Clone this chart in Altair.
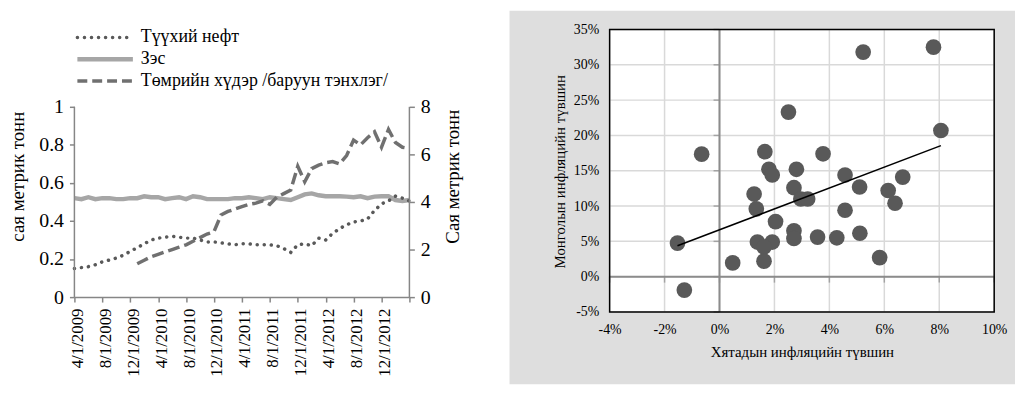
import altair as alt
import pandas as pd

FONT = "Liberation Serif"

# ---------------- left chart data (monthly, 4/2009 .. 4/2013) ----------------
start_month, start_year = 4, 2009
month_idx = list(range(49))
month_labels = []
for i in month_idx:
    m = (start_month - 1 + i) % 12 + 1
    y = start_year + (start_month - 1 + i) // 12
    month_labels.append(f"{m}/1/{y}")

series_names = ["Түүхий нефт", "Зэс", "Төмрийн хүдэр /баруун тэнхлэг/"]

oil = [0.15, 0.155, 0.16, 0.17, 0.185, 0.195, 0.205, 0.22, 0.24, 0.26,
       0.28, 0.30, 0.31, 0.315, 0.32, 0.315, 0.31, 0.31, 0.30, 0.29,
       0.29, 0.285, 0.28, 0.275, 0.28, 0.28, 0.275, 0.275, 0.275, 0.27,
       0.255, 0.235, 0.275, 0.28, 0.27, 0.31, 0.30, 0.335, 0.36, 0.38,
       0.395, 0.40, 0.41, 0.455, 0.49, 0.505, 0.53, 0.52, 0.505]

copper = [0.52, 0.515, 0.525, 0.515, 0.52, 0.52, 0.515, 0.515, 0.52, 0.52,
          0.53, 0.525, 0.525, 0.515, 0.52, 0.525, 0.515, 0.53, 0.525, 0.515,
          0.515, 0.515, 0.515, 0.52, 0.52, 0.525, 0.52, 0.515, 0.525, 0.52,
          0.515, 0.51, 0.525, 0.54, 0.545, 0.535, 0.53, 0.53, 0.53, 0.528,
          0.525, 0.53, 0.52, 0.528, 0.53, 0.53, 0.51, 0.505, 0.51]

iron = [None] * 9 + [1.4, 1.55, 1.7, 1.8, 1.9, 2.0, 2.1, 2.2, 2.35, 2.5,
                     2.65, 2.75, 3.45, 3.6, 3.7, 3.8, 3.9, 3.95, 4.05, 3.9,
                     4.2, 4.35, 4.5, 5.5, 4.85, 5.4, 5.55, 5.65, 5.7, 5.6,
                     5.95, 6.6, 6.4, 6.7, 6.95, 6.3, 7.05, 6.5, 6.3, 6.25]

left_y_ticks = [0, 0.2, 0.4, 0.6, 0.8, 1]
right_y_ticks = [0, 2, 4, 6, 8]
x_tick_values = list(range(0, 49, 4))

# ---------------- right chart data ----------------
china_infl = [5.23, 7.79, 2.51, 8.06, -0.65, 1.65, 3.77, 1.80, 1.92, 2.80,
              4.57, 6.67, 2.71, 5.10, 6.14, 1.26, 2.96, 3.21, 6.39, 1.34,
              4.57, 2.04, 2.71, 2.71, 5.11, 3.57, 4.27, -1.53, 1.38, 1.92,
              1.62, 1.62, 0.48, 5.83, -1.28]
mongol_infl = [31.8, 32.5, 23.3, 20.7, 17.35, 17.7, 17.4, 15.2, 14.4, 15.2,
               14.4, 14.1, 12.6, 12.7, 12.2, 11.7, 11.0, 11.0, 10.4, 9.6,
               9.4, 7.8, 6.5, 5.4, 6.15, 5.6, 5.5, 4.75, 4.9, 4.9,
               4.2, 2.2, 1.95, 2.7, -1.9]
x_grid = [-4, -2, 0, 2, 4, 6, 8, 10]
y_grid = [-5, 0, 5, 10, 15, 20, 25, 30, 35]

# ---------------- left chart ----------------
LW, LH = 338, 270
PX_ONE = 192  # pixel height of the 0..1 range
left_max = LH / PX_ONE
right_max = 8 * LH / PX_ONE
AX_COLOR = "#868686"

df_oil = pd.DataFrame({"idx": month_idx, "value": oil})
df_cu = pd.DataFrame({"idx": month_idx, "value": copper})
df_fe = pd.DataFrame({"idx": month_idx, "value": iron}).dropna()

tick_labels = [month_labels[i] if i < 48 else "" for i in x_tick_values]
label_expr = "[" + ",".join(f"'{s}'" for s in tick_labels) + "][round(datum.value/4)]"

x_scale_l = alt.Scale(domain=[0, 48], nice=False, zero=False)
x_axis_l = alt.Axis(values=x_tick_values, labelExpr=label_expr, labelAngle=270,
                    labelFontSize=17, labelPadding=6, labelOffset=3, tickSize=5, tickWidth=1.5,
                    tickColor=AX_COLOR, domainColor=AX_COLOR, domainWidth=1.5,
                    labelFlush=False, labelOverlap=False, grid=False, title=None)
x_enc = alt.X("idx:Q", scale=x_scale_l, axis=x_axis_l)

left_scale = alt.Scale(domain=[0, left_max], nice=False, zero=True)
right_scale = alt.Scale(domain=[0, right_max], nice=False, zero=True)

cu_line = alt.Chart(df_cu).mark_line(color="#a6a6a6", strokeWidth=4.5).encode(
    x=x_enc,
    y=alt.Y("value:Q", scale=left_scale,
            axis=alt.Axis(orient="left", values=left_y_ticks, format=".1~f", domain=False,
                          tickSize=5, tickWidth=1.5, tickColor=AX_COLOR, labelFontSize=20,
                          labelPadding=6, grid=False,
                          title="сая метрик тонн", titleAngle=270, titleX=-57, titleY=148,
                          titleAlign="center", titleBaseline="middle", titleFontSize=19,
                          titleFontWeight="normal")),
)

oil_line = alt.Chart(df_oil).mark_line(
    color="#595959", strokeWidth=3.5, strokeDash=[0.1, 7], strokeCap="round"
).encode(
    x=x_enc,
    y=alt.Y("value:Q", scale=left_scale, axis=None),
)

fe_line = alt.Chart(df_fe).mark_line(
    color="#707070", strokeWidth=3.5, strokeDash=[12, 5]
).encode(
    x=x_enc,
    y=alt.Y("value:Q", scale=right_scale,
            axis=alt.Axis(orient="right", values=right_y_ticks, format="d", domain=False,
                          tickSize=5, tickWidth=1.5, tickColor=AX_COLOR, labelFontSize=20,
                          labelPadding=6, grid=False,
                          title="Сая метрик тонн", titleAngle=270, titleX=44, titleY=148,
                          titleAlign="center", titleBaseline="middle", titleFontSize=19,
                          titleFontWeight="normal")),
)

one = alt.Data(values=[{}])
axis_left_line = alt.Chart(one).mark_rule(color=AX_COLOR, strokeWidth=1.5).encode(
    x=alt.value(0), y=alt.value(LH - PX_ONE), y2=alt.value(LH))
axis_right_line = alt.Chart(one).mark_rule(color=AX_COLOR, strokeWidth=1.5).encode(
    x=alt.value(LW), y=alt.value(LH - PX_ONE), y2=alt.value(LH))

leg_y = [8, 30, 52]
leg_styles = [dict(color="#595959", strokeWidth=3.5, strokeDash=[0.1, 7], strokeCap="round"),
              dict(color="#a6a6a6", strokeWidth=4.5),
              dict(color="#707070", strokeWidth=3.5, strokeDash=[10, 5])]
legend_layers = []
for name, yy, st in zip(series_names, leg_y, leg_styles):
    legend_layers.append(alt.Chart(one).mark_rule(**st).encode(
        x=alt.value(3), x2=alt.value(59), y=alt.value(yy)))
    legend_layers.append(alt.Chart(one).mark_text(
        align="left", baseline="middle", font=FONT, fontSize=18, color="black"
    ).encode(x=alt.value(67), y=alt.value(yy), text=alt.value(name)))

left = alt.layer(
    cu_line, oil_line, fe_line, axis_left_line, axis_right_line, *legend_layers
).resolve_scale(y="independent").properties(width=LW, height=LH)

# ---------------- right chart ----------------
RW, RH = 388, 285
xs = alt.Scale(domain=[-4, 10], nice=False, zero=False)
ys = alt.Scale(domain=[-5, 35], nice=False, zero=False)
df_sc = pd.DataFrame({"cn": china_infl, "mn": mongol_infl})

x_axis_r = alt.Axis(values=x_grid, labelExpr="datum.value + '%'", domain=False, ticks=False,
                    grid=False, labelFontSize=14, labelPadding=11, labelFlush=False,
                    title="Хятадын инфляцийн түвшин", titleFontSize=15,
                    titleFontWeight="normal", titleY=40, titleBaseline="middle", zindex=1)
y_axis_r = alt.Axis(values=y_grid, labelExpr="datum.value + '%'", domain=False, ticks=False,
                    grid=False, labelFontSize=14, labelPadding=11, labelFlush=False,
                    title="Монголын инфляцийн түвшин", titleFontSize=15,
                    titleFontWeight="normal", titleAngle=270, titleX=-51, titleY=143,
                    titleAlign="center", titleBaseline="middle", zindex=1)

panel = alt.Chart(one).mark_rect(color="#dedede").encode(
    x=alt.value(-101), x2=alt.value(409), y=alt.value(-19), y2=alt.value(358))
plot_bg = alt.Chart(one).mark_rect(color="white").encode(
    x=alt.value(0), x2=alt.value(RW), y=alt.value(0), y2=alt.value(RH))

vgrid = alt.Chart(pd.DataFrame({"cn": x_grid})).mark_rule(color="#d9d9d9", strokeWidth=1.5).encode(
    x=alt.X("cn:Q", scale=xs, axis=x_axis_r))
hgrid = alt.Chart(pd.DataFrame({"mn": y_grid})).mark_rule(color="#d9d9d9", strokeWidth=1.5).encode(
    y=alt.Y("mn:Q", scale=ys, axis=y_axis_r))
zero_v = alt.Chart(pd.DataFrame({"cn": [0]})).mark_rule(color="#8c8c8c", strokeWidth=2).encode(
    x=alt.X("cn:Q", scale=xs, axis=x_axis_r))
zero_h = alt.Chart(pd.DataFrame({"mn": [0]})).mark_rule(color="#8c8c8c", strokeWidth=2).encode(
    y=alt.Y("mn:Q", scale=ys, axis=y_axis_r))

# small tick marks along the zero lines
xt = alt.Chart(pd.DataFrame({"cn": x_grid, "mn": [0] * len(x_grid)})).mark_tick(
    orient="vertical", size=6, thickness=1.5, color="#8c8c8c", yOffset=3).encode(
    x=alt.X("cn:Q", scale=xs, axis=x_axis_r), y=alt.Y("mn:Q", scale=ys, axis=y_axis_r))
yt = alt.Chart(pd.DataFrame({"mn": y_grid, "cn": [0] * len(y_grid)})).mark_tick(
    orient="horizontal", size=6, thickness=1.5, color="#8c8c8c", xOffset=-3).encode(
    x=alt.X("cn:Q", scale=xs, axis=x_axis_r), y=alt.Y("mn:Q", scale=ys, axis=y_axis_r))

points = alt.Chart(df_sc).mark_circle(size=250, color="#595959", opacity=1).encode(
    x=alt.X("cn:Q", scale=xs, axis=x_axis_r),
    y=alt.Y("mn:Q", scale=ys, axis=y_axis_r),
)

trend = alt.Chart(df_sc).transform_regression("cn", "mn").mark_line(
    color="black", strokeWidth=1.5).encode(
    x=alt.X("cn:Q", scale=xs, axis=x_axis_r), y=alt.Y("mn:Q", scale=ys, axis=y_axis_r))

border = alt.Chart(one).mark_rect(fillOpacity=0, stroke="black", strokeWidth=1.5).encode(
    x=alt.value(0), x2=alt.value(RW), y=alt.value(0), y2=alt.value(RH))

right = alt.layer(panel, plot_bg, vgrid, hgrid, zero_v, zero_h, xt, yt, points, trend, border
                  ).properties(width=RW, height=RH)

chart = alt.hconcat(left, right, spacing=45).properties(
    background="white", padding=0
).configure_view(stroke="transparent").configure_axis(
    labelFont=FONT, titleFont=FONT, labelColor="black", titleColor="black"
).configure_text(font=FONT)

chart.save("out.html", embed_options={"renderer": "svg", "actions": False})
